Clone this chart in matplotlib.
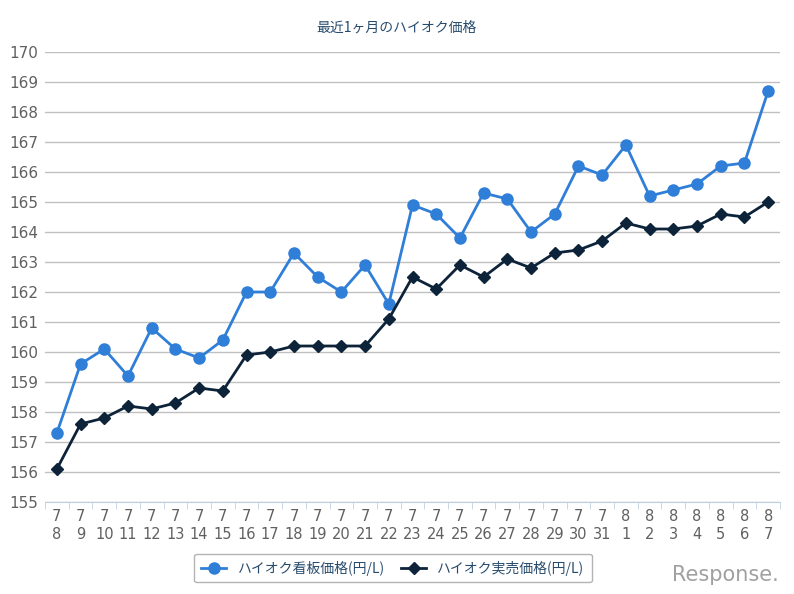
import matplotlib.pyplot as plt
from matplotlib.ticker import FixedLocator, NullFormatter

plt.rcParams['font.family'] = ['Noto Sans CJK JP', 'DejaVu Sans']

months = [7] * 24 + [8] * 7
days = list(range(8, 32)) + list(range(1, 8))
labels = ['%d\n%d' % (m, d) for m, d in zip(months, days)]

kanban = [157.3, 159.6, 160.1, 159.2, 160.8, 160.1, 159.8, 160.4, 162.0, 162.0,
          163.3, 162.5, 162.0, 162.9, 161.6, 164.9, 164.6, 163.8, 165.3, 165.1,
          164.0, 164.6, 166.2, 165.9, 166.9, 165.2, 165.4, 165.6, 166.2, 166.3,
          168.7]
jitsubai = [156.1, 157.6, 157.8, 158.2, 158.1, 158.3, 158.8, 158.7, 159.9, 160.0,
            160.2, 160.2, 160.2, 160.2, 161.1, 162.5, 162.1, 162.9, 162.5, 163.1,
            162.8, 163.3, 163.4, 163.7, 164.3, 164.1, 164.1, 164.2, 164.6, 164.5,
            165.0]

fig = plt.figure(figsize=(7.94, 5.94), dpi=100)
ax = fig.add_axes([45 / 794, 1 - 502 / 594, 735 / 794, 450 / 594])

x = list(range(len(labels)))
ax.plot(x, kanban, color='#2f7ed8', lw=2, marker='o', ms=8,
        label='ハイオク看板価格(円/L)', zorder=3)
ax.plot(x, jitsubai, color='#0d233a', lw=2, marker='D', ms=6,
        label='ハイオク実売価格(円/L)', zorder=3)

ax.set_xlim(-0.5, len(labels) - 0.5)
ax.set_ylim(155, 170)
ax.set_yticks(range(155, 171))
ax.yaxis.grid(True, color='#c0c0c0', lw=1)
ax.set_axisbelow(True)

ax.set_xticks(x)
ax.set_xticklabels(labels, fontsize=10.5, color='#606060', linespacing=1.25,
                   family='DejaVu Sans')
ax.xaxis.set_minor_locator(FixedLocator([i - 0.5 for i in range(len(labels) + 1)]))
ax.xaxis.set_minor_formatter(NullFormatter())
ax.tick_params(axis='x', which='major', length=0, pad=5)
ax.tick_params(axis='x', which='minor', length=5, color='#c0d0e0', direction='out')
ax.tick_params(axis='y', length=0, labelsize=11, labelcolor='#606060', pad=5)
for lab in ax.get_yticklabels():
    lab.set_family('DejaVu Sans')

for s in ['top', 'right', 'left']:
    ax.spines[s].set_visible(False)
ax.spines['bottom'].set_color('#c0d0e0')

fig.text(0.5, 1 - 28 / 594, '最近1ヶ月のハイオク価格', ha='center', va='center',
         fontsize=10, color='#274b6d')

leg = fig.legend(loc='center', bbox_to_anchor=(393 / 794, 1 - 568 / 594), ncol=2,
                 frameon=True, fontsize=10, handlelength=1.8, columnspacing=1.2,
                 borderpad=0.5, fancybox=True)
leg.get_frame().set_edgecolor('#a0a0a0')
leg.get_frame().set_linewidth(1)
for t in leg.get_texts():
    t.set_color('#274b6d')

fig.text(725 / 794, 1 - 575 / 594, 'Response.', ha='center', va='center',
         fontsize=15, color='#a0a0a0', family='DejaVu Sans')

fig.savefig('out.png', dpi=100)
